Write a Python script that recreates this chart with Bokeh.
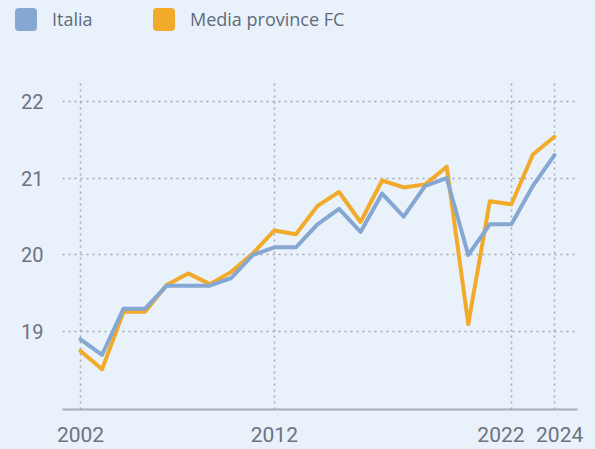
from bokeh.plotting import figure
from bokeh.layouts import column
from bokeh.models import FixedTicker, Range1d, Div
from bokeh.embed import file_html
from bokeh.resources import INLINE

# ---- data ----
x_idx = list(range(23))
italia = [18.9, 18.7, 19.3, 19.3, 19.6, 19.6, 19.6, 19.7, 20.0, 20.1, 20.1, 20.4,
          20.6, 20.3, 20.8, 20.5, 20.9, 21.0, 20.0, 20.4, 20.4, 20.9, 21.3]
media_fc = [18.75, 18.51, 19.26, 19.26, 19.61, 19.76, 19.62, 19.78, 20.02, 20.32, 20.27, 20.64,
            20.82, 20.43, 20.97, 20.88, 20.92, 21.15, 19.10, 20.70, 20.66, 21.31, 21.54]
x_tick_idx = [0, 9, 20, 22]
x_tick_labels = ["2002", "2012", "2022", "2024"]
y_ticks = [19, 20, 21, 22]
series_names = ["Italia", "Media province FC"]

# ---- style ----
BG = "#E9F1FA"
BLUE = "#85A7D2"
ORANGE = "#F2AA2A"
TXT = "#6C7480"
GRID = "#A3A8B0"
NB = "\u00a0"
label_pad = {"2022": ("", NB * 4), "2024": (NB * 2, "")}  # nudges the crowded last labels apart
legend_swatch_left = [15, 153]
legend_text_left = [52, 190]

# ---- legend strip (HTML) ----
parts = []
for name, col, sl, tl in zip(series_names, [BLUE, ORANGE], legend_swatch_left, legend_text_left):
    parts.append(
        f'<span style="position:absolute;left:{sl}px;top:8px;width:22px;height:23px;'
        f'border-radius:4px;background:{col};"></span>'
        f'<span style="position:absolute;left:{tl}px;top:7px;line-height:normal;'
        f'white-space:nowrap;">{name}</span>')
legend_html = (f'<div style="position:relative;width:595px;height:70px;background:{BG};'
               f'font-family:\'Open Sans\';font-size:18px;color:#5F6B7B;">'
               + "".join(parts) + '</div>')
leg = Div(text=legend_html, width=595, height=70, margin=(0, 0, 0, 0),
          styles={"background": BG})

# ---- main chart ----
p = figure(width=595, height=379, output_backend="svg", toolbar_location=None,
           x_range=Range1d(-0.835, 23.07), y_range=Range1d(17.987, 22.26),
           min_border_left=62, min_border_right=18, min_border_top=11, min_border_bottom=39)
p.background_fill_color = BG
p.border_fill_color = BG
p.outline_line_color = None

p.xaxis.ticker = FixedTicker(ticks=x_tick_idx)
p.xaxis.major_label_overrides = {
    i: label_pad.get(s, ("", ""))[0] + s + label_pad.get(s, ("", ""))[1]
    for i, s in zip(x_tick_idx, x_tick_labels)}
p.xaxis.axis_line_color = "#A9AEB6"
p.xaxis.axis_line_width = 2
p.xaxis.major_tick_line_color = None
p.xaxis.minor_tick_line_color = None
p.xaxis.major_tick_out = 0
p.xaxis.major_label_standoff = 13
p.xaxis.major_label_text_font = "Roboto"
p.xaxis.major_label_text_font_size = "21px"
p.xaxis.major_label_text_color = TXT

p.yaxis.ticker = FixedTicker(ticks=y_ticks)
p.yaxis.axis_line_color = None
p.yaxis.major_tick_line_color = None
p.yaxis.minor_tick_line_color = None
p.yaxis.major_tick_out = 0
p.yaxis.major_label_standoff = 19
p.yaxis.major_label_text_font = "Roboto"
p.yaxis.major_label_text_font_size = "20px"
p.yaxis.major_label_text_color = TXT

for g in (p.xgrid, p.ygrid):
    g.grid_line_color = GRID
    g.grid_line_dash = "2 4"
    g.grid_line_width = 1.5
p.xgrid.ticker = FixedTicker(ticks=x_tick_idx)
p.ygrid.ticker = FixedTicker(ticks=y_ticks)

p.line(x_idx, media_fc, line_width=4, line_color=ORANGE, line_join="round", line_cap="round")
p.line(x_idx, italia, line_width=4, line_color=BLUE, line_join="round", line_cap="round")

layout = column(leg, p, spacing=0, styles={"background": BG})
open("out.html", "w").write(file_html(layout, INLINE))
